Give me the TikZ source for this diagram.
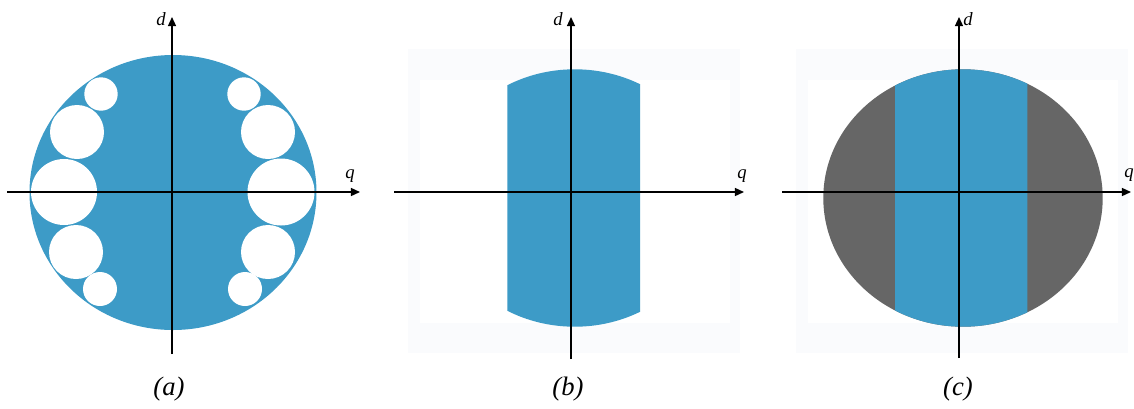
\documentclass[tikz,border=0pt]{standalone}
\usepackage{fontspec}
\setmainfont{Liberation Serif}
\usetikzlibrary{arrows.meta}
\definecolor{pblue}{HTML}{3D9BC7}
\definecolor{pgray}{HTML}{666666}
\definecolor{pframe}{HTML}{FAFBFD}
\begin{document}
\begin{tikzpicture}[x=0.75pt,y=-0.75pt,
  axis/.style={line width=1.1pt,-{Triangle[length=6.8pt,width=6pt]}},
  axlabel/.style={font=\fontsize{14}{16}\selectfont\itshape,inner sep=0pt},
  caption/.style={font=\fontsize{20}{23}\selectfont\itshape,inner sep=0pt},
  hole/.style={fill=white}]
\useasboundingbox (0,0) rectangle (1134,408);
% ---------- (a)
\fill[pblue] (173,192.5) ellipse [x radius=143.5,y radius=137.5];
\foreach \cx/\cy/\r in {101/94/16.7, 77/132/27, 64/192/33, 76/252/27, 100/289/17,
                        244/94/16.7, 268/132/27, 281/192/33.5, 268/252/27, 245/289/17}
  \fill[hole] (\cx,\cy) circle[radius=\r];
\coordinate (a-l) at (7,192);   \coordinate (a-r) at (360,192);
\coordinate (a-b) at (172,354); \coordinate (a-t) at (172,17);
\draw[axis] (a-l) -- (a-r);
\draw[axis] (a-b) -- (a-t);
\node[axlabel] (a-d) at (161,19) {d};
\node[axlabel] (a-q) at (350,176) {q};
\node[caption] (a-cap) at (169,389) {(a)};
% ---------- (b)
\fill[pframe] (408,49) rectangle (740,353);
\fill[white] (420,80) rectangle (730,323);
\begin{scope}
  \clip (507.3,0) rectangle (640,408);
  \fill[pblue] (574.7,198) ellipse [x radius=139.7,y radius=128.7];
\end{scope}
\coordinate (b-l) at (394,192);  \coordinate (b-r) at (744,192);
\coordinate (b-b) at (571,359);  \coordinate (b-t) at (571,17);
\draw[axis] (b-l) -- (b-r);
\draw[axis] (b-b) -- (b-t);
\node[axlabel] (b-d) at (558,19) {d};
\node[axlabel] (b-q) at (742,176) {q};
\node[caption] (b-cap) at (568,389) {(b)};
% ---------- (c)
\fill[pframe] (796,49) rectangle (1128,353);
\fill[white] (808,80) rectangle (1118,323);
\fill[pgray] (963,198) ellipse [x radius=139.7,y radius=128.7];
\begin{scope}
  \clip (895,0) rectangle (1027.3,408);
  \fill[pblue] (963,198) ellipse [x radius=139.7,y radius=128.7];
\end{scope}
\coordinate (c-l) at (782,192);  \coordinate (c-r) at (1131,192);
\coordinate (c-b) at (959,358);  \coordinate (c-t) at (959,17);
\draw[axis] (c-l) -- (c-r);
\draw[axis] (c-b) -- (c-t);
\node[axlabel] (c-d) at (968,19) {d};
\node[axlabel] (c-q) at (1129,175) {q};
\node[caption] (c-cap) at (958,389) {(c)};
\end{tikzpicture}
\end{document}
